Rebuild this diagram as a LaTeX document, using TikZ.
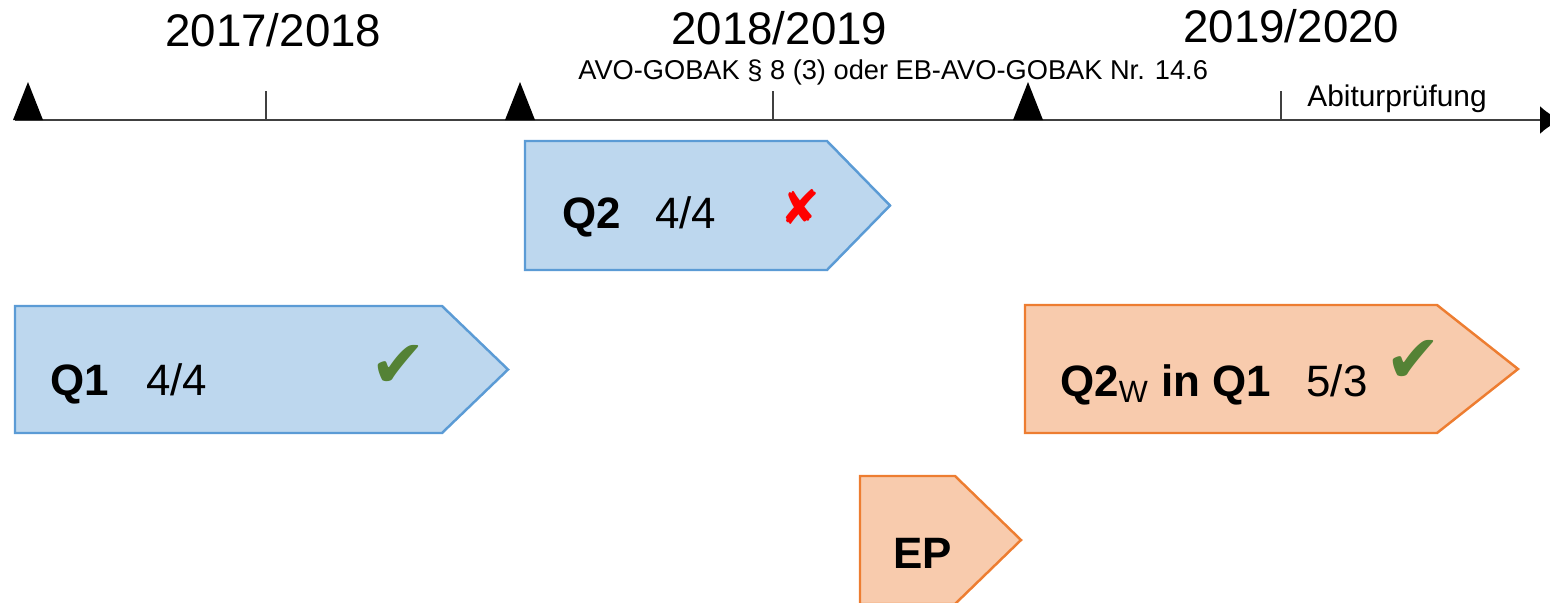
\documentclass[tikz,border=0pt]{standalone}
\usepackage{fontspec}
\setmainfont{Liberation Sans}
\newfontfamily\symbolfont{DejaVu Sans}
\usetikzlibrary{arrows.meta}

\definecolor{qblue}{HTML}{BDD7EE}
\definecolor{qblueline}{HTML}{5B9BD5}
\definecolor{qorange}{HTML}{F8CBAD}
\definecolor{qorangeline}{HTML}{ED7D31}
\definecolor{okgreen}{HTML}{548235}

\begin{document}
\begin{tikzpicture}[> = {Latex[length = 0.42cm, width = 0.56cm, color = black]}, x = 0.02cm, y = -0.02cm,
	year/.style = {anchor = base west, font = \fontsize{26}{30}\selectfont},
	smallnote/.style = {anchor = base west, font = \fontsize{15.5}{18}\selectfont, inner sep = 0pt},
	boxtext/.style = {anchor = base west, font = \fontsize{25}{30}\selectfont, inner sep = 0pt},
	blueblock/.style = {fill = qblue, draw = qblueline, line width = 1.4pt},
	orangeblock/.style = {fill = qorange, draw = qorangeline, line width = 1.4pt},
	tick/.style = {line width = 0.8pt, black!75},
	okmark/.style = {okgreen, font = \symbolfont\fontsize{38}{38}\selectfont, inner sep = 0pt}]

	\useasboundingbox (0, 0) rectangle (1550, 602);

	% Time axis

	\draw [->, line width = 1.3pt, black!75] (15, 120) -- (1561, 120);

	\foreach \x in {28, 520, 1028}
	{
		\fill (\x - 15, 120) -- (\x + 15, 120) -- (\x, 82) -- cycle;
	}

	\foreach \x in {266, 773, 1281}
	{
		\draw [tick] (\x, 120) -- (\x, 91);
	}

	% School years

	\node [year, inner sep = 0pt] (y1) at (165, 46) {2017/2018};
	\node [year, inner sep = 0pt] (y2) at (671, 44) {2018/2019};
	\node [year, inner sep = 0pt] (y3) at (1183, 42) {2019/2020};

	\node [smallnote] (rule) at (578, 79) {AVO-GOBAK \S\ 8 (3) oder EB-AVO-GOBAK Nr. 14.6};
	\node [smallnote, font = \fontsize{17}{20}\selectfont] (abi) at (1307, 106) {Abiturprüfung};

	% Phases

	\draw [blueblock] (525, 141) -- (827, 141) -- (890, 205.5) -- (827, 270) -- (525, 270) -- cycle;
	\node [boxtext] (q2) at (562, 228) {\textbf{Q2}};
	\node [boxtext] (q2ratio) at (655, 228) {4/4};
	\node [red, font = \symbolfont\fontsize{27}{27}\selectfont, inner sep = 0pt] (q2fail) at (800, 207) {✘};

	\draw [blueblock] (15, 306) -- (442, 306) -- (508, 369.5) -- (442, 433) -- (15, 433) -- cycle;
	\node [boxtext] (q1) at (50, 395) {\textbf{Q1}};
	\node [boxtext] (q1ratio) at (146, 395) {4/4};
	\node [okmark] (q1ok) at (398, 366) {✔};

	\draw [orangeblock] (1025, 305) -- (1437, 305) -- (1518, 369) -- (1437, 433) -- (1025, 433) -- cycle;
	\node [boxtext] (q2w) at (1060, 396) {\textbf{Q2\textsubscript{\mdseries W} in Q1}};
	\node [boxtext] (q2wratio) at (1306, 396) {5/3};
	\node [okmark] (q2wok) at (1413, 361) {✔};

	\draw [orangeblock] (860, 476) -- (955, 476) -- (1021, 540) -- (955, 604) -- (860, 604) -- cycle;
	\node [boxtext] (ep) at (893, 568) {\textbf{EP}};

\end{tikzpicture}
\end{document}
